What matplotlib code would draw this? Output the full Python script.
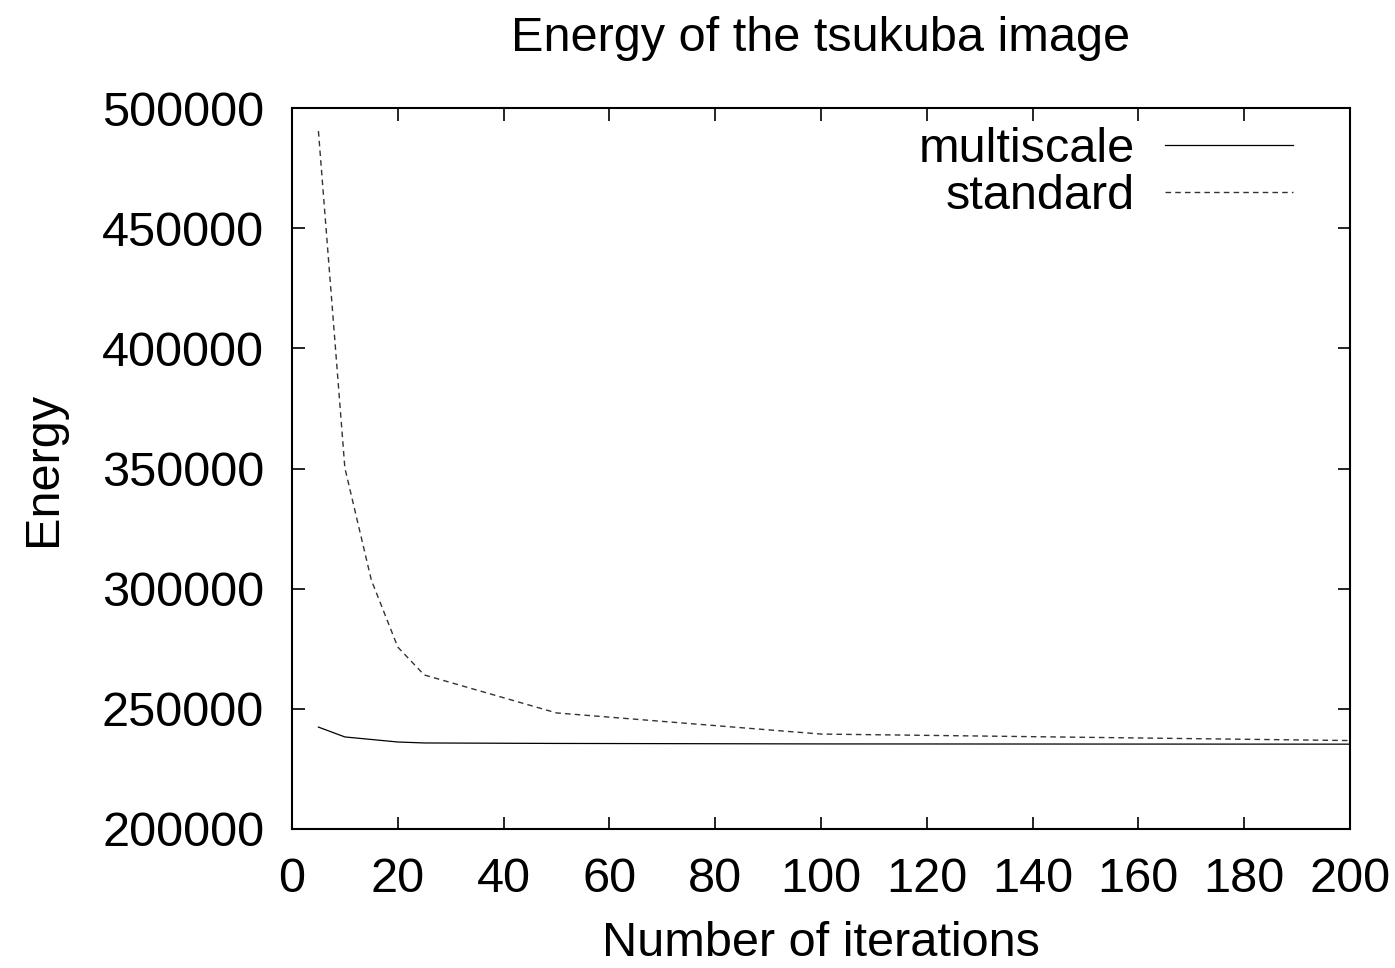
import matplotlib
matplotlib.use("Agg")
import matplotlib.pyplot as plt

# iterations and energies
multiscale_iter = [5, 10, 20, 25, 50, 100, 200]
multiscale_energy = [242400, 238300, 236200, 235800, 235600, 235400, 235300]

standard_iter = [5, 10, 15, 20, 25, 50, 100, 200]
standard_energy = [490400, 350200, 303600, 275700, 264100, 248300, 239500, 236800]

x_ticks = list(range(0, 201, 20))
y_ticks = list(range(200000, 500001, 50000))


def main():
    plt.rcParams["font.family"] = ["Liberation Sans", "DejaVu Sans"]
    fs = 35

    fig = plt.figure(figsize=(13.95, 9.68), dpi=100)
    ax = fig.add_axes([0.2093, 0.1436, 0.7584, 0.7448])

    ax.plot(multiscale_iter, multiscale_energy, color="black", lw=0.9,
            label="multiscale")
    ax.plot(standard_iter, standard_energy, color="#333333", lw=1.0,
            dashes=(4, 3), label="standard")

    ax.set_xlim(0, 200)
    ax.set_ylim(200000, 500000)
    ax.set_xticks(x_ticks)
    ax.set_yticks(y_ticks)
    ax.tick_params(direction="in", length=9, width=1.2, top=True, right=True,
                   labelsize=fs)
    ax.tick_params(axis="x", pad=20)
    ax.tick_params(axis="y", pad=20)
    for s in ax.spines.values():
        s.set_linewidth(1.5)

    ax.set_title("Energy of the tsukuba image", fontsize=fs, pad=41)
    ax.set_xlabel("Number of iterations", fontsize=fs, labelpad=14)
    ax.set_ylabel("Energy", fontsize=fs, labelpad=26)

    ax.legend(loc="upper right", bbox_to_anchor=(0.946, 0.974),
              frameon=False, markerfirst=False, fontsize=fs,
              handlelength=2.63, handletextpad=0.62, borderaxespad=0,
              borderpad=0, labelspacing=0.05)


if __name__ == "__main__":
    main()
    plt.savefig("out.png", dpi=100)
